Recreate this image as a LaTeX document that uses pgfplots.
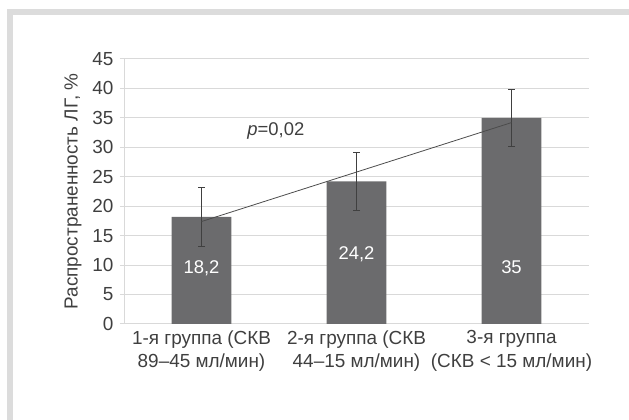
\documentclass[border=0pt]{standalone}
\usepackage{fontspec}
\setmainfont{Liberation Sans}
\usepackage{pgfplots}
\pgfplotsset{compat=1.18}
\definecolor{framegray}{HTML}{DCDCDC}
\definecolor{gridgray}{HTML}{D9D9D9}
\definecolor{bargray}{HTML}{6B6B6D}
\definecolor{txtgray}{HTML}{3F3F3F}
\begin{document}
\begin{tikzpicture}
\path[use as bounding box] (0,0) rectangle (629bp,420bp);
\fill[framegray] (7bp,0) rectangle (13bp,411bp);
\fill[framegray] (7bp,405bp) rectangle (629bp,411bp);
\begin{axis}[
  at={(124bp,96bp)}, anchor=south west,
  scale only axis, width=465bp, height=265bp,
  xmin=0.5, xmax=3.5, ymin=0, ymax=45,
  axis lines*=left,
  axis line style={gridgray, line width=1bp},
  ytick={0,5,...,45},
  ymajorgrids, grid style={gridgray, line width=1bp},
  xtick={1,2,3},
  xticklabels={{1-я группа (СКВ\\89--45 мл/мин)},{2-я группа (СКВ\\44--15 мл/мин)},{3-я группа\\(СКВ < 15 мл/мин)}},
  xticklabel style={align=center, font=\fontsize{19}{23.5}\selectfont, text=txtgray, yshift=1bp},
  yticklabel style={font=\fontsize{19}{21}\selectfont, text=txtgray, xshift=-3bp},
  /pgf/number format/assume math mode=true,
  x tick style={draw=none},
  minor xtick={1.5,2.5,3.5},
  minor x tick style={gridgray, line width=1bp},
  minor tick length=5bp,
  y tick style={gridgray, line width=1bp},
  major tick length=4bp,
  tick align=outside,
  ylabel={Распространенность ЛГ, \%},
  ylabel shift=4bp,
  ylabel style={font=\fontsize{19}{21}\selectfont, text=txtgray},
  clip=false,
]
\addplot[ybar, bar width=0.387, fill=bargray, draw=none,
  error bars/.cd, y dir=both, y explicit,
  error bar style={line width=0.9bp, black!75},
  error mark options={rotate=90, mark size=3.5bp, line width=0.9bp, black!75}]
  coordinates {(1,18.2) +- (0,5) (2,24.2) +- (0,5) (3,35) +- (0,4.9)};
\addplot[no marks, sharp plot, line width=0.8bp, black!70] coordinates {(1,17.4) (3,34.2)};
\node[white, font=\fontsize{18.5}{20}\selectfont] at (axis cs:1,9.5) {18,2};
\node[white, font=\fontsize{18.5}{20}\selectfont] at (axis cs:2,11.9) {24,2};
\node[white, font=\fontsize{18.5}{20}\selectfont] at (axis cs:3,9.7) {35};
\node[txtgray, font=\fontsize{18.5}{20}\selectfont] at (axis cs:1.48,32.8) {\textit{p}=0,02};
\end{axis}
\end{tikzpicture}
\end{document}
